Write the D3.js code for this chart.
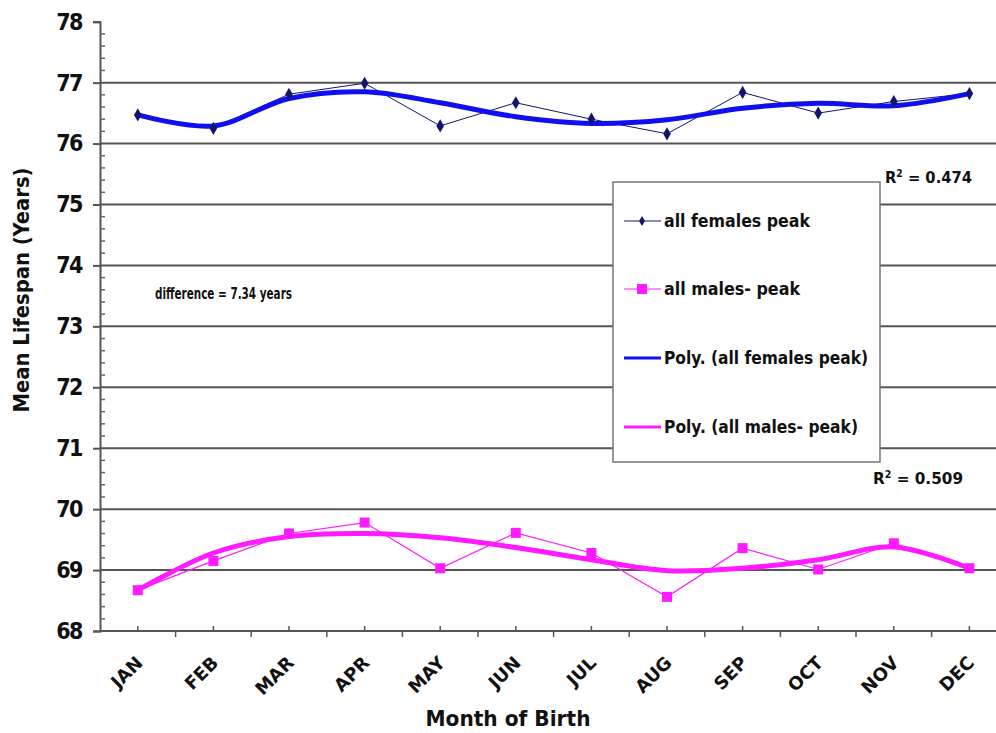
<!DOCTYPE html>
<html>
<head>
<meta charset="utf-8">
<script src="https://cdn.jsdelivr.net/npm/d3@7/dist/d3.min.js"></script>
<style>
  html, body { margin: 0; padding: 0; background: #fff; }
  svg { display: block; }
  text { font-family: "DejaVu Sans Condensed", "Liberation Sans", sans-serif; fill: #111; }
</style>
</head>
<body>
<svg id="chart" width="996" height="733"></svg>
<script>
// Month of birth categories
const months = ["JAN","FEB","MAR","APR","MAY","JUN","JUL","AUG","SEP","OCT","NOV","DEC"];

// Mean lifespan (years) by month of birth
const femalesPeak = [76.47, 76.25, 76.81, 76.99, 76.29, 76.67, 76.40, 76.16, 76.84, 76.50, 76.69, 76.82];
const malesPeak   = [68.67, 69.15, 69.60, 69.78, 69.03, 69.61, 69.28, 68.56, 69.36, 69.01, 69.44, 69.03];

// Polynomial trend line values at each month
const femalesTrend = [76.47, 76.29, 76.74, 76.85, 76.67, 76.44, 76.33, 76.39, 76.58, 76.66, 76.62, 76.82];
const malesTrend   = [68.67, 69.28, 69.55, 69.60, 69.53, 69.37, 69.17, 68.99, 69.03, 69.17, 69.38, 69.03];

// Y-axis ticks
const yTicks = [68, 69, 70, 71, 72, 73, 74, 75, 76, 77, 78];

const svg = d3.select("#chart");
const W = 996;

const x = d3.scaleBand().domain(months).range([100, 100 + 12 * 75.6]).padding(0);
const cx = m => x(m) + x.bandwidth() / 2;
const y = d3.scaleLinear().domain([68, 78]).range([631, 21.7]);

// Horizontal gridlines
svg.append("g").selectAll("line")
  .data(yTicks.filter(v => v > 68 && v < 78))
  .join("line")
  .attr("x1", 100).attr("x2", W)
  .attr("y1", d => y(d)).attr("y2", d => y(d))
  .attr("stroke", "#555").attr("stroke-width", 2);

// Y axis: major ticks outside, minor ticks inside
const yAxis = svg.append("g").attr("transform", "translate(100,0)");
yAxis.call(d3.axisLeft(y).tickValues(yTicks).tickSize(7).tickFormat(d3.format("d")))
  .call(g => g.select(".domain").attr("stroke", "#555").attr("stroke-width", 2))
  .call(g => g.selectAll(".tick line").attr("stroke", "#555").attr("stroke-width", 2))
  .call(g => g.selectAll(".tick text")
    .attr("x", -18)
    .style("font-family", "'DejaVu Sans Condensed', sans-serif")
    .style("font-weight", "bold")
    .style("font-size", "23px")
    .style("letter-spacing", "-1.5px")
    .attr("fill", "#111"));
const minor = d3.range(68, 78.001, 0.2).filter(v => Math.abs(v - Math.round(v)) > 0.01);
yAxis.append("g").selectAll("line").data(minor).join("line")
  .attr("x1", 0).attr("x2", 5)
  .attr("y1", d => y(d)).attr("y2", d => y(d))
  .attr("stroke", "#666").attr("stroke-width", 1.5);

// X axis
const xAxisY = y(68);
svg.append("line").attr("x1", 100).attr("x2", W)
  .attr("y1", xAxisY).attr("y2", xAxisY)
  .attr("stroke", "#555").attr("stroke-width", 2);
// boundary ticks below, center ticks above
svg.append("g").selectAll("line").data(months.slice(1)).join("line")
  .attr("x1", d => x(d)).attr("x2", d => x(d))
  .attr("y1", xAxisY).attr("y2", xAxisY + 6)
  .attr("stroke", "#555").attr("stroke-width", 1.5);
svg.append("g").selectAll("line").data(months).join("line")
  .attr("x1", d => cx(d)).attr("x2", d => cx(d))
  .attr("y1", xAxisY).attr("y2", xAxisY - 5)
  .attr("stroke", "#555").attr("stroke-width", 1.5);
svg.append("g").selectAll("text").data(months).join("text")
  .attr("transform", d => `translate(${cx(d) + 6},${xAxisY + 33}) rotate(-45)`)
  .attr("text-anchor", "end")
  .style("font-family", "'DejaVu Sans', sans-serif")
  .style("font-weight", "bold")
  .style("font-size", "18px")
  .text(d => d);

// Axis titles
svg.append("text")
  .attr("x", 508).attr("y", 726)
  .attr("text-anchor", "middle")
  .style("font-weight", "bold").style("font-size", "22px")
  .attr("textLength", 165).attr("lengthAdjust", "spacingAndGlyphs")
  .text("Month of Birth");
svg.append("text")
  .attr("transform", "translate(29,290) rotate(-90)")
  .attr("text-anchor", "middle")
  .style("font-weight", "bold").style("font-size", "21px")
  .attr("textLength", 245).attr("lengthAdjust", "spacingAndGlyphs")
  .text("Mean Lifespan (Years)");

const line = d3.line().x((d, i) => cx(months[i])).y(d => y(d));
const smooth = d3.line().x((d, i) => cx(months[i])).y(d => y(d)).curve(d3.curveCatmullRom.alpha(0.5));

const femaleDark = "#141470";
const femaleBlue = "#1010ee";
const maleMag = "#ff1aff";

// Female data line and markers
svg.append("path").datum(femalesPeak).attr("d", line)
  .attr("fill", "none").attr("stroke", femaleDark).attr("stroke-width", 1);
// Female trend
svg.append("path").datum(femalesTrend).attr("d", smooth)
  .attr("fill", "none").attr("stroke", femaleBlue).attr("stroke-width", 5)
  .attr("stroke-linecap", "round");
svg.append("g").selectAll("path").data(femalesPeak).join("path")
  .attr("transform", (d, i) => `translate(${cx(months[i])},${y(d)})`)
  .attr("d", d3.symbol(d3.symbolDiamond, 50))
  .attr("fill", femaleDark);

// Male data line and markers
svg.append("path").datum(malesPeak).attr("d", line)
  .attr("fill", "none").attr("stroke", maleMag).attr("stroke-width", 1.2);
svg.append("path").datum(malesTrend).attr("d", smooth)
  .attr("fill", "none").attr("stroke", maleMag).attr("stroke-width", 5)
  .attr("stroke-linecap", "round");
svg.append("g").selectAll("rect").data(malesPeak).join("rect")
  .attr("x", (d, i) => cx(months[i]) - 5).attr("y", d => y(d) - 5)
  .attr("width", 10).attr("height", 10)
  .attr("fill", maleMag);

// Annotations
svg.append("text").attr("x", 155).attr("y", 299)
  .style("font-size", "16px").style("font-weight", "bold")
  .attr("textLength", 137).attr("lengthAdjust", "spacingAndGlyphs")
  .text("difference = 7.34 years");
function rLabel(x0, y0, value, width) {
  const t = svg.append("text").attr("x", x0).attr("y", y0)
    .style("font-size", "16px").style("font-weight", "bold");
  t.append("tspan").text("R");
  t.append("tspan").attr("dy", -6).style("font-size", "10px").text("2");
  t.append("tspan").attr("dy", 6).text(" = " + value);
  t.attr("textLength", width).attr("lengthAdjust", "spacingAndGlyphs");
}
rLabel(885, 183, "0.474", 87);
rLabel(873, 484, "0.509", 90);

// Legend
const legend = svg.append("g");
legend.append("rect").attr("x", 613).attr("y", 182).attr("width", 267).attr("height", 280)
  .attr("fill", "#fff").attr("stroke", "#777").attr("stroke-width", 1.5);
const items = [
  { label: "all females peak", color: femaleDark, w: 1, marker: "diamond", yy: 221, tw: 146 },
  { label: "all males- peak", color: maleMag, w: 1.2, marker: "square", yy: 289, tw: 136 },
  { label: "Poly. (all females peak)", color: femaleBlue, w: 3, marker: null, yy: 358, tw: 204 },
  { label: "Poly. (all males- peak)", color: maleMag, w: 3, marker: null, yy: 427, tw: 194 }
];
items.forEach(it => {
  legend.append("line").attr("x1", 624).attr("x2", 661)
    .attr("y1", it.yy).attr("y2", it.yy)
    .attr("stroke", it.color).attr("stroke-width", it.w);
  if (it.marker === "diamond") {
    legend.append("path").attr("transform", `translate(642,${it.yy})`)
      .attr("d", d3.symbol(d3.symbolDiamond, 30)).attr("fill", it.color);
  } else if (it.marker === "square") {
    legend.append("rect").attr("x", 637).attr("y", it.yy - 5).attr("width", 10).attr("height", 10)
      .attr("fill", it.color);
  }
  legend.append("text").attr("x", 664).attr("y", it.yy + 6)
    .style("font-size", "17px").style("font-weight", "bold")
    .attr("textLength", it.tw).attr("lengthAdjust", "spacingAndGlyphs")
    .text(it.label);
});
</script>
</body>
</html>
